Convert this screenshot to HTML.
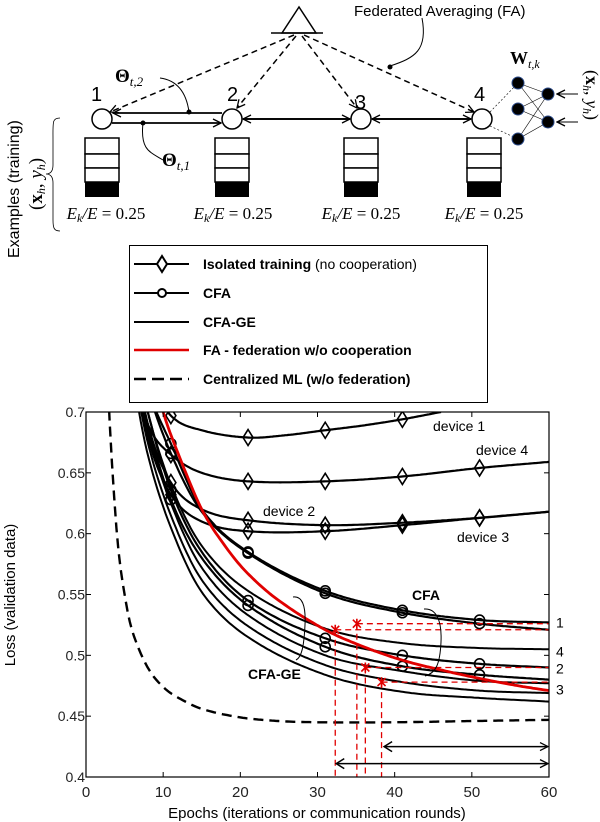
<!DOCTYPE html>
<html><head><meta charset="utf-8"><style>
body{margin:0;background:#fff;}
svg{display:block;font-family:"Liberation Sans",sans-serif;}
</style></head><body>
<svg id="fig" width="600" height="822" viewBox="0 0 600 822">
<defs>
<marker id="ah" markerWidth="10" markerHeight="10" refX="9" refY="5" orient="auto" markerUnits="userSpaceOnUse"><path d="M1,1 L9,5 L1,9" fill="none" stroke="#000" stroke-width="1.3"/></marker>
<clipPath id="pc"><rect x="86" y="412" width="463" height="365"/></clipPath>
</defs>
<g>
<path d="M299,7 L282,33 L316,33 Z" fill="none" stroke="#000" stroke-width="1.5"/>
<line x1="271" y1="33" x2="323" y2="33" stroke="#000" stroke-width="1.5"/>
<text x="354" y="16" font-size="15">Federated Averaging (FA)</text>
<path d="M422,18 C428,50 415,58 390,66" fill="none" stroke="#000" stroke-width="1"/>
<circle cx="390" cy="67" r="2.5" fill="#000"/>
<g stroke="#000" stroke-width="1.5" stroke-dasharray="6,4" fill="none">
<line x1="294" y1="35" x2="110" y2="112" marker-end="url(#ah)"/>
<line x1="296" y1="36" x2="237" y2="108" marker-end="url(#ah)"/>
<line x1="302" y1="36" x2="357" y2="108" marker-end="url(#ah)"/>
<line x1="304" y1="35" x2="474" y2="112" marker-end="url(#ah)"/>
</g>
<g font-size="20">
<text x="91" y="101">1</text><text x="227" y="101">2</text><text x="355" y="109">3</text><text x="474" y="101">4</text>
</g>
<g fill="#fff" stroke="#000" stroke-width="1.5">
<circle cx="102" cy="119" r="10"/>
<circle cx="232" cy="119" r="10"/>
<circle cx="361" cy="119" r="10"/>
<circle cx="482" cy="119" r="10"/>
</g>
<g stroke="#000" stroke-width="1.8" fill="none">
<line x1="222" y1="113" x2="113" y2="113" marker-end="url(#ah)"/>
<line x1="112" y1="123" x2="221" y2="123" marker-end="url(#ah)"/>
<line x1="243" y1="119" x2="350" y2="119" marker-end="url(#ah)"/>
<line x1="350" y1="119" x2="243" y2="119" marker-end="url(#ah)"/>
<line x1="372" y1="119" x2="471" y2="119" marker-end="url(#ah)"/>
<line x1="471" y1="119" x2="372" y2="119" marker-end="url(#ah)"/>
</g>
<circle cx="189" cy="112" r="2.5" fill="#000"/><circle cx="143" cy="123" r="2.5" fill="#000"/>
<path d="M189,112 C186,90 175,80 160,78" fill="none" stroke="#000"/>
<path d="M143,123 C140,150 150,152 163,160" fill="none" stroke="#000"/>
<text x="115" y="82" font-family="Liberation Serif,serif" font-weight="bold" font-size="19">Θ<tspan font-size="13" font-style="italic" font-weight="normal" dy="4">t,2</tspan></text>
<text x="162" y="166" font-family="Liberation Serif,serif" font-weight="bold" font-size="19">Θ<tspan font-size="13" font-style="italic" font-weight="normal" dy="4">t,1</tspan></text>
<g id="stacks"></g>
<g font-family="Liberation Serif,serif" font-size="17" text-anchor="middle">
<text x="106" y="219"><tspan font-style="italic">E<tspan font-size="12" dy="3">k</tspan><tspan dy="-3">/E</tspan></tspan> = 0.25</text>
<text x="233" y="219"><tspan font-style="italic">E<tspan font-size="12" dy="3">k</tspan><tspan dy="-3">/E</tspan></tspan> = 0.25</text>
<text x="361" y="219"><tspan font-style="italic">E<tspan font-size="12" dy="3">k</tspan><tspan dy="-3">/E</tspan></tspan> = 0.25</text>
<text x="484" y="219"><tspan font-style="italic">E<tspan font-size="12" dy="3">k</tspan><tspan dy="-3">/E</tspan></tspan> = 0.25</text>
</g>
<path d="M60,118 C52,118 53,122 53,140 L53,165 C53,172 50,174 46,174 C50,174 53,176 53,183 L53,220 C53,228 54,231 60,231" fill="none" stroke="#000" stroke-width="0.8"/>
<text transform="translate(19,258) rotate(-90)" font-size="16">Examples (training)</text>
<text transform="translate(42,210) rotate(-90)" font-size="19" font-family="Liberation Serif,serif">(<tspan font-weight="bold">x</tspan><tspan font-style="italic" font-size="12" dy="3">h</tspan><tspan dy="-3">, </tspan><tspan font-style="italic">y</tspan><tspan font-style="italic" font-size="12" dy="3">h</tspan><tspan dy="-3">)</tspan></text>
<g>
<g stroke="#000" stroke-width="0.6" stroke-dasharray="2,2"><line x1="490" y1="112" x2="518" y2="83"/><line x1="490" y1="126" x2="518" y2="139"/></g>
<g stroke="#000" stroke-width="0.6">
<line x1="518" y1="83" x2="548" y2="94"/><line x1="518" y1="83" x2="548" y2="122"/>
<line x1="518" y1="109" x2="548" y2="94"/><line x1="518" y1="109" x2="548" y2="122"/>
<line x1="518" y1="139" x2="548" y2="94"/><line x1="518" y1="139" x2="548" y2="122"/>
</g>
<g fill="#000" stroke="#2a4a8a" stroke-width="1">
<circle cx="518" cy="83" r="6"/><circle cx="518" cy="109" r="6"/><circle cx="518" cy="139" r="6"/>
<circle cx="548" cy="94" r="6"/><circle cx="548" cy="122" r="6"/>
</g>
<line x1="578" y1="94" x2="557" y2="94" stroke="#000" marker-end="url(#ah)"/>
<line x1="578" y1="122" x2="557" y2="122" stroke="#000" marker-end="url(#ah)"/>
<text x="510" y="64" font-family="Liberation Serif,serif" font-size="18" font-weight="bold">W<tspan font-size="12" font-style="italic" font-weight="normal" dy="4">t,k</tspan></text>
<text transform="translate(586,70) rotate(90)" font-size="18" font-family="Liberation Serif,serif">(<tspan font-weight="bold">x</tspan><tspan font-style="italic" font-size="12" dy="3">h</tspan><tspan dy="-3">, </tspan><tspan font-style="italic">y</tspan><tspan font-style="italic" font-size="12" dy="3">h</tspan><tspan dy="-3">)</tspan></text>
</g>
</g>
<g>
<rect x="129.5" y="245.5" width="358" height="157" fill="#fff" stroke="#000"/>
<g stroke="#000" stroke-width="2">
<line x1="134" y1="264" x2="189" y2="264"/><path d="M162,256 L167,264 L162,272 L157,264 Z" fill="#fff"/>
<line x1="134" y1="293" x2="189" y2="293"/><circle cx="162" cy="293" r="4" fill="#fff"/>
<line x1="134" y1="322" x2="189" y2="322"/>
<line x1="134" y1="350" x2="189" y2="350" stroke="#e00000" stroke-width="2.5"/>
<line x1="134" y1="379" x2="189" y2="379" stroke-dasharray="12,6" stroke-width="2.5"/>
</g>
<g font-size="14" font-weight="bold">
<text x="203" y="269">Isolated training <tspan font-weight="normal">(no cooperation)</tspan></text>
<text x="203" y="298">CFA</text>
<text x="203" y="327">CFA-GE</text>
<text x="203" y="355">FA - federation w/o cooperation</text>
<text x="203" y="384">Centralized ML (w/o federation)</text>
</g>
</g>
<g id="chart"></g>
</svg>
<script>
const xTicks=[0,10,20,30,40,50,60];
const yTicks=[0.4,0.45,0.5,0.55,0.6,0.65,0.7];
const yTickLabels=["0.4","0.45","0.5","0.55","0.6","0.65","0.7"];
const epochs=[6,8,11,15,21,31,41,51,60];
const dev1Epochs=[8,11,15,21,26,31,36,41,46];
const dev1=[0.73,0.697,0.685,0.679,0.681,0.685,0.689,0.694,0.700];
const dev4=[0.74,0.69,0.665,0.65,0.643,0.643,0.647,0.654,0.659];
const dev2=[0.76,0.69,0.642,0.62,0.611,0.607,0.609,0.613,0.618];
const dev3=[0.75,0.68,0.632,0.61,0.602,0.602,0.607,0.613,0.618];
const cfa1=[0.78,0.72,0.674,0.62,0.585,0.553,0.537,0.529,0.527];
const cfa4=[0.78,0.72,0.666,0.618,0.584,0.551,0.535,0.526,0.521];
const cfa2=[0.76,0.70,0.636,0.585,0.545,0.514,0.500,0.493,0.490];
const cfa3=[0.75,0.69,0.628,0.58,0.541,0.507,0.491,0.484,0.480];
const ge1=[0.76,0.70,0.64,0.59,0.553,0.522,0.510,0.506,0.505];
const ge2=[0.75,0.685,0.625,0.572,0.533,0.500,0.487,0.479,0.477];
const ge3=[0.74,0.675,0.615,0.562,0.524,0.492,0.478,0.471,0.469];
const ge4=[0.73,0.665,0.605,0.552,0.515,0.484,0.470,0.465,0.462];
const faEpochs=[8,10,12,15,18,21,25,31,36,41,46,51,56,60];
const fa=[0.75,0.70,0.665,0.62,0.59,0.567,0.545,0.521,0.507,0.496,0.488,0.481,0.475,0.471];
const cenEpochs=[2.5,3,4,5,6,8,10,12,15,20,25,30,40,50,60];
const cen=[0.78,0.70,0.60,0.55,0.52,0.49,0.474,0.465,0.456,0.449,0.446,0.445,0.445,0.446,0.447];
const markerEpochs=[11,21,31,41,51];
const crossX=[32.3,35.1,36.2,38.3];
const crossY=[0.521,0.526,0.490,0.478];
const crossLabels=["1","4","2","3"];
const labelY=[0.527,0.503,0.489,0.472];
const arrowStart=[38.5,32.3];
const arrowY=[0.425,0.411];

const NS="http://www.w3.org/2000/svg";
const X0=86,X1=549,Y0=777,Y1=412;
function sx(v){return X0+(v-0)/(60-0)*(X1-X0);}
function sy(v){return Y0-(v-0.4)/(0.7-0.4)*(Y0-Y1);}
const chart=document.getElementById('chart');
function mk(tag,attrs,parent){const e=document.createElementNS(NS,tag);for(const k in attrs)e.setAttribute(k,attrs[k]);(parent||chart).appendChild(e);return e;}
function interp(xs,ys,x){for(let i=0;i<xs.length-1;i++){if(x>=xs[i]&&x<=xs[i+1]){const p0=ys[Math.max(0,i-1)],p1=ys[i],p2=ys[i+1],p3=ys[Math.min(ys.length-1,i+2)];const t=(x-xs[i])/(xs[i+1]-xs[i]);const h=xs[i+1]-xs[i];const m1=i>0?(p2-p0)/(xs[i+1]-xs[i-1])*h:(p2-p1);const m2=i<xs.length-2?(p3-p1)/(xs[i+2]-xs[i])*h:(p2-p1);const t2=t*t,t3=t2*t;return (2*t3-3*t2+1)*p1+(t3-2*t2+t)*m1+(-2*t3+3*t2)*p2+(t3-t2)*m2;}}return ys[ys.length-1];}
function curvePath(xs,ys){let d="";const n=200;for(let k=0;k<=n;k++){const x=xs[0]+(xs[xs.length-1]-xs[0])*k/n;d+=(k?"L":"M")+sx(x).toFixed(1)+","+sy(interp(xs,ys,x)).toFixed(1);}return d;}
const stacks=document.getElementById('stacks');
[102,232,361,484].forEach(function(cx){
 const g=mk('g',{},stacks);
 
 
 [138,154,168].forEach(function(y,i){const h=[16,14,14][i];mk('rect',{x:cx-17,y:y,width:34,height:h,fill:'#fff',stroke:'#000','stroke-width':1.5},g);});
 mk('rect',{x:cx-17,y:182,width:34,height:15,fill:'#000'},g);
});
mk('rect',{x:X0,y:Y1,width:X1-X0,height:Y0-Y1,fill:'#fff',stroke:'none'});
const plot=mk('g',{'clip-path':'url(#pc)'});
xTicks.forEach(function(t){
 mk('line',{x1:sx(t),y1:Y0,x2:sx(t),y2:Y0-5,stroke:'#000'});
 mk('line',{x1:sx(t),y1:Y1,x2:sx(t),y2:Y1+5,stroke:'#000'});
 const l=mk('text',{x:sx(t),y:797,'font-size':15,'text-anchor':'middle',fill:'#222'});l.textContent=t;
 
 
});
yTicks.forEach(function(t,i){
 mk('line',{x1:X0,y1:sy(t),x2:X0+5,y2:sy(t),stroke:'#000'});
 mk('line',{x1:X1,y1:sy(t),x2:X1-5,y2:sy(t),stroke:'#000'});
 const l=mk('text',{x:X0-1,y:sy(t)+5,'font-size':14,'text-anchor':'end',fill:'#222'});l.textContent=yTickLabels[i];
 
 
});
function line(xs,ys,name,attrs){const p=mk('path',Object.assign({d:curvePath(xs,ys),fill:'none',stroke:'#000','stroke-width':2.2},attrs||{}),plot);
 
 return p;}
line(cenEpochs,cen,'centralized-line',{'stroke-dasharray':'10,6','stroke-width':2.4});
[[dev1Epochs,dev1,'isolated-device-1'],[epochs,dev4,'isolated-device-4'],[epochs,dev2,'isolated-device-2'],[epochs,dev3,'isolated-device-3']].forEach(function(s){
 line(s[0],s[1],s[2]);
 markerEpochs.forEach(function(m){if(m>s[0][s[0].length-1]||m<s[0][0])return;const cx=sx(m),cy=sy(interp(s[0],s[1],m));if(cy<Y1-2)return;
  const d=mk('path',{d:'M'+cx+','+(cy-8)+' L'+(cx+5)+','+cy+' L'+cx+','+(cy+8)+' L'+(cx-5)+','+cy+' Z',fill:'none',stroke:'#000','stroke-width':1.6},plot);
  
  });
});
[[ge1,'cfa-ge-1'],[ge2,'cfa-ge-2'],[ge3,'cfa-ge-3'],[ge4,'cfa-ge-4']].forEach(function(s){line(epochs,s[0],s[1],{'stroke-width':2});});
[[cfa1,'cfa-1'],[cfa4,'cfa-4'],[cfa2,'cfa-2'],[cfa3,'cfa-3']].forEach(function(s){
 line(epochs,s[0],s[1]);
 markerEpochs.forEach(function(m){const c=mk('circle',{cx:sx(m),cy:sy(interp(epochs,s[0],m)),r:5,fill:'none',stroke:'#000','stroke-width':1.6},plot);
  
  });
});
line(faEpochs,fa,'fa-line',{stroke:'#e00000','stroke-width':2.8});
crossX.forEach(function(cxv,i){
 const cx=sx(cxv),cy=sy(crossY[i]);
 mk('line',{x1:cx,y1:cy,x2:X1,y2:cy,stroke:'#e00000','stroke-width':1.3,'stroke-dasharray':'6,4'},plot);
 mk('line',{x1:cx,y1:cy,x2:cx,y2:Y0,stroke:'#e00000','stroke-width':1.3,'stroke-dasharray':'6,4'},plot);
 const c=mk('path',{d:'M'+(cx-4)+','+(cy-4)+'L'+(cx+4)+','+(cy+4)+'M'+(cx+4)+','+(cy-4)+'L'+(cx-4)+','+(cy+4)+'M'+cx+','+(cy-5)+'L'+cx+','+(cy+5),stroke:'#e00000','stroke-width':1.6},plot);
 
 
 const t=mk('text',{x:556,y:sy(labelY[i])+5,'font-size':14});t.textContent=crossLabels[i];
 
 
});
arrowStart.forEach(function(a,i){
 const y=sy(arrowY[i]);
 const l=mk('line',{x1:sx(a)+1,y1:y,x2:X1-1,y2:y,stroke:'#000','stroke-width':1.5,'marker-end':'url(#ah)'});
 mk('path',{d:'M'+(sx(a)+9)+','+(y-5)+' L'+(sx(a)+1)+','+y+' L'+(sx(a)+9)+','+(y+5),fill:'none',stroke:'#000','stroke-width':1.5});
 
 
});
mk('rect',{x:X0,y:Y1,width:X1-X0,height:Y0-Y1,fill:'none',stroke:'#000','stroke-width':1.2});
function txt(x,y,s,name,attrs){const t=mk('text',Object.assign({x:x,y:y,'font-size':14},attrs||{}));t.textContent=s;
 
 }
txt(433,431,'device 1','device-1-label');
txt(476,455,'device 4','device-4-label');
txt(263,516,'device 2','device-2-label');
txt(457,542,'device 3','device-3-label');
txt(412,600,'CFA','cfa-annotation',{'font-weight':'bold'});
txt(248,679,'CFA-GE','cfa-ge-annotation',{'font-weight':'bold'});
mk('path',{d:'M293,597 C302,596 306,605 305,625 C304,645 302,657 296,660',fill:'none',stroke:'#000'});
mk('path',{d:'M424,609 C436,608 442,620 441,642 C440,664 436,673 425,676',fill:'none',stroke:'#000'});
txt(317,818,'Epochs (iterations or communication rounds)','x-axis-title',{'text-anchor':'middle','font-size':15});
const yt=mk('text',{transform:'translate(15,595) rotate(-90)','font-size':15,'text-anchor':'middle'});yt.textContent='Loss (validation data)';


</script>
</body></html>
